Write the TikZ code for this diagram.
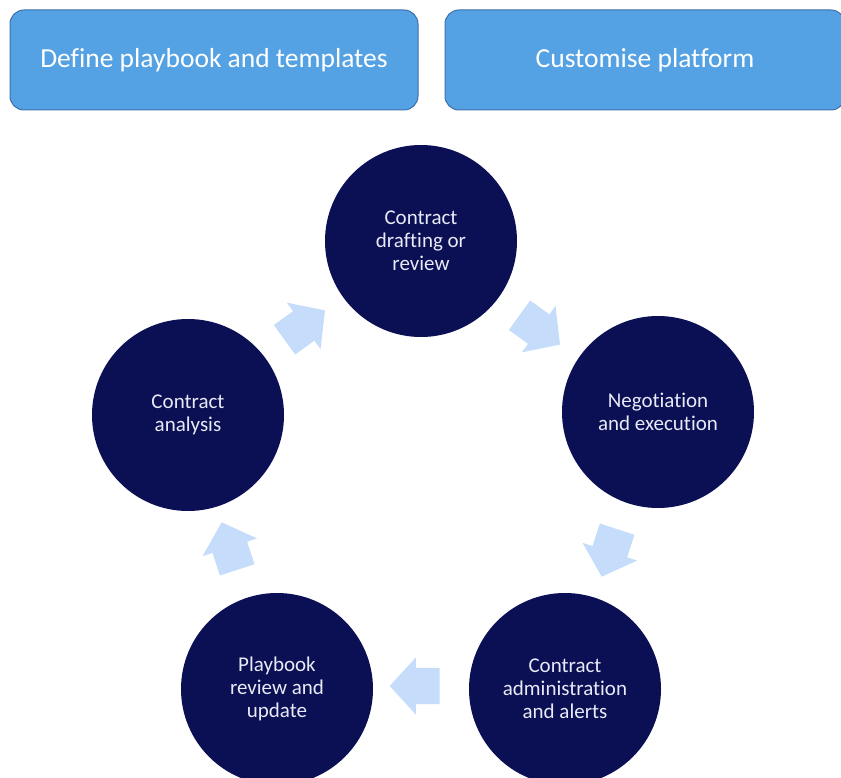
\documentclass[tikz,border=0pt]{standalone}
\usepackage{fontspec}
\setmainfont{Carlito}[Ligatures=NoCommon]
\usetikzlibrary{shapes.arrows}
\definecolor{CycleNavy}{RGB}{11,15,84}
\definecolor{CycleBox}{RGB}{84,161,228}
\definecolor{CycleBoxLine}{RGB}{60,112,170}
\definecolor{CycleArrow}{RGB}{197,221,250}
\definecolor{CycleText}{RGB}{232,234,246}

\begin{document}
\begin{tikzpicture}[x=1pt,y=-1pt,
  phase/.style={rectangle,rounded corners=14pt,draw=CycleBoxLine,line width=1pt,fill=CycleBox,text=white,minimum width=#1,minimum height=100pt,font=\fontsize{27.5}{31}\selectfont},
  stage/.style={circle,fill=CycleNavy,text=CycleText,minimum size=192pt,inner sep=0pt,align=center,font=\fontsize{21}{23}\selectfont},
  flow/.style={single arrow,fill=CycleArrow,draw=none,minimum height=50pt,inner xsep=0pt,inner ysep=18pt,single arrow head extend=10.5pt,single arrow tip angle=95,rotate=#1}]
\useasboundingbox (0,0) rectangle (841,778);
% top boxes
\node[phase=408pt] (define) at (214,60) {Define playbook and templates};
\node[phase=400pt] (custom) at (645,60) {Customise platform};
% cycle
\node[stage] (draft) at (421,241) {Contract\\drafting or\\review};
\node[stage] (negot) at (658,412) {Negotiation\\and execution};
\node[stage] (admin) at (565,689) {Contract\\administration\\and alerts};
\node[stage] (review) at (277,689) {Playbook\\review and\\update};
\node[stage] (analys) at (188,415) {Contract\\analysis};
\foreach \x/\y/\a/\n in {533/325/-36/a1,612/545/-108/a2,423/686/180/a3,232/554/108/a4,298/330/36/a5} {
   \node[flow=\a] (\n) at (\x,\y) {};
}
\end{tikzpicture}
\end{document}
